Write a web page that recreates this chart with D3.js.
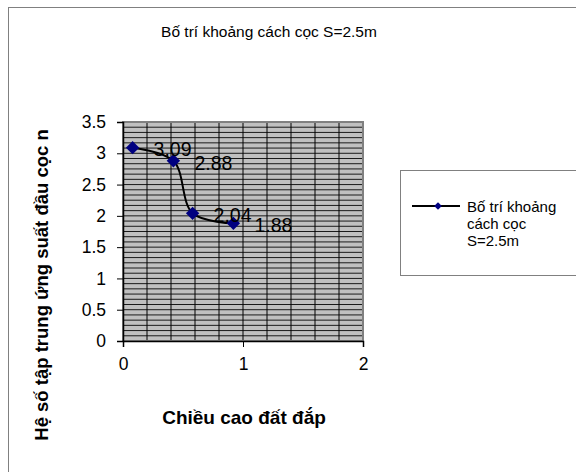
<!DOCTYPE html>
<html>
<head>
<meta charset="utf-8">
<script src="https://cdn.jsdelivr.net/npm/d3@7"></script>
<style>
  body { margin: 0; background: #fff; }
  svg { font-family: "Liberation Sans", Arial, sans-serif; }
</style>
</head>
<body>
<div class="container"></div>
<script>
// dữ liệu
const chartTitle = "Bố trí khoảng cách cọc S=2.5m";
const xTitle = "Chiều cao đất đắp";
const yTitle = "Hệ số tập trung ứng suất đầu cọc n";
const seriesName = ["Bố trí khoảng", "cách cọc", "S=2.5m"];
const xValues = [0.08, 0.42, 0.58, 0.92];
const yValues = [3.09, 2.88, 2.04, 1.88];
const xTicks = [0, 1, 2];
const yTicks = [0, 0.5, 1, 1.5, 2, 2.5, 3, 3.5];

const width = 576, height = 472;
const plot = { left: 123, right: 363, top: 122, bottom: 341 };

const svg = d3.select(".container")
    .append("svg")
    .attr("width", width)
    .attr("height", height);

// khung ngoài
svg.append("rect")
    .attr("x", 8.5).attr("y", 7.5)
    .attr("width", 600).attr("height", 500)
    .attr("fill", "#fff")
    .attr("stroke", "#808080")
    .attr("stroke-width", 1);

const x = d3.scaleLinear().domain([0, 2]).range([plot.left, plot.right]);
const y = d3.scaleLinear().domain([0, 3.5]).range([plot.bottom, plot.top]);

// nền vùng vẽ
svg.append("rect")
    .attr("x", plot.left).attr("y", plot.top)
    .attr("width", plot.right - plot.left)
    .attr("height", plot.bottom - plot.top)
    .attr("fill", "#c0c0c0");

// lưới ngang (phụ)
const grid = svg.append("g");
const yMinor = d3.range(0, 42 + 1).map(i => i * 3.5 / 42);
grid.selectAll("line.hy")
    .data(yMinor)
    .join("line")
    .attr("class", "hy")
    .attr("x1", plot.left).attr("x2", plot.right)
    .attr("y1", d => y(d)).attr("y2", d => y(d))
    .attr("stroke", "#1a1a1a")
    .attr("stroke-width", 1);

// lưới dọc
grid.selectAll("line.vx")
    .data(d3.range(1, 10).map(i => i * 0.2))
    .join("line")
    .attr("class", "vx")
    .attr("x1", d => x(d)).attr("x2", d => x(d))
    .attr("y1", plot.top).attr("y2", plot.bottom)
    .attr("stroke", "#000")
    .attr("stroke-width", 1);

// viền vùng vẽ
svg.append("rect")
    .attr("x", plot.left).attr("y", plot.top)
    .attr("width", plot.right - plot.left)
    .attr("height", plot.bottom - plot.top)
    .attr("fill", "none")
    .attr("stroke", "#808080")
    .attr("stroke-width", 2);

// trục
const yAxis = svg.append("g")
    .attr("transform", `translate(${plot.left},0)`)
    .call(d3.axisLeft(y).tickValues(yTicks).tickSize(6).tickPadding(11)
        .tickFormat(d => String(d)));
const xAxis = svg.append("g")
    .attr("transform", `translate(0,${plot.bottom})`)
    .call(d3.axisBottom(x).tickValues(xTicks).tickSize(6).tickPadding(11)
        .tickFormat(d => String(d)));
[xAxis, yAxis].forEach(a => {
    a.select(".domain").attr("stroke", "#000").attr("stroke-width", 1.5);
    a.selectAll(".tick line").attr("stroke", "#000");
    a.selectAll(".tick text")
        .attr("font-size", 17.5)
        .attr("fill", "#000")
        .attr("font-family", "Liberation Sans, Arial, sans-serif");
});

// đường cong
const line = d3.line()
    .x((d, i) => x(xValues[i]))
    .y(d => y(d))
    .curve(d3.curveCatmullRom.alpha(0.5));
svg.append("path")
    .datum(yValues)
    .attr("d", line)
    .attr("fill", "none")
    .attr("stroke", "#000")
    .attr("stroke-width", 2);

// điểm
const diamond = d3.symbol(d3.symbolSquare, 90);
svg.selectAll("path.pt")
    .data(yValues)
    .join("path")
    .attr("class", "pt")
    .attr("d", diamond)
    .attr("transform", (d, i) => `translate(${x(xValues[i])},${y(d)}) rotate(45)`)
    .attr("fill", "#000080");

// nhãn dữ liệu
svg.selectAll("text.lbl")
    .data(yValues)
    .join("text")
    .attr("class", "lbl")
    .attr("x", (d, i) => x(xValues[i]) + 21)
    .attr("y", d => y(d) + 2)
    .attr("dy", "0.35em")
    .attr("font-size", 19.5)
    .attr("fill", "#000")
    .text(d => d.toFixed(2));

// tiêu đề
svg.append("text")
    .attr("x", 269).attr("y", 32)
    .attr("dy", "0.35em")
    .attr("text-anchor", "middle")
    .attr("font-size", 15.5)
    .text(chartTitle);

svg.append("text")
    .attr("x", 244).attr("y", 417)
    .attr("dy", "0.35em")
    .attr("text-anchor", "middle")
    .attr("font-size", 19)
    .attr("font-weight", "bold")
    .text(xTitle);

svg.append("text")
    .attr("transform", "translate(42,285) rotate(-90)")
    .attr("dy", "0.35em")
    .attr("text-anchor", "middle")
    .attr("font-size", 18.5)
    .attr("font-weight", "bold")
    .text(yTitle);

// chú giải
const legend = svg.append("g");
legend.append("rect")
    .attr("x", 400.5).attr("y", 170.5)
    .attr("width", 200).attr("height", 105)
    .attr("fill", "#fff")
    .attr("stroke", "#808080")
    .attr("stroke-width", 1);
legend.append("line")
    .attr("x1", 412).attr("x2", 460)
    .attr("y1", 206).attr("y2", 206)
    .attr("stroke", "#000").attr("stroke-width", 2);
legend.append("path")
    .attr("d", d3.symbol(d3.symbolSquare, 30))
    .attr("transform", "translate(438,206) rotate(45)")
    .attr("fill", "#000080");
legend.selectAll("text")
    .data(seriesName)
    .join("text")
    .attr("x", 467)
    .attr("y", (d, i) => 207 + i * 17)
    .attr("dy", "0.35em")
    .attr("font-size", 15)
    .text(d => d);
</script>
</body>
</html>
